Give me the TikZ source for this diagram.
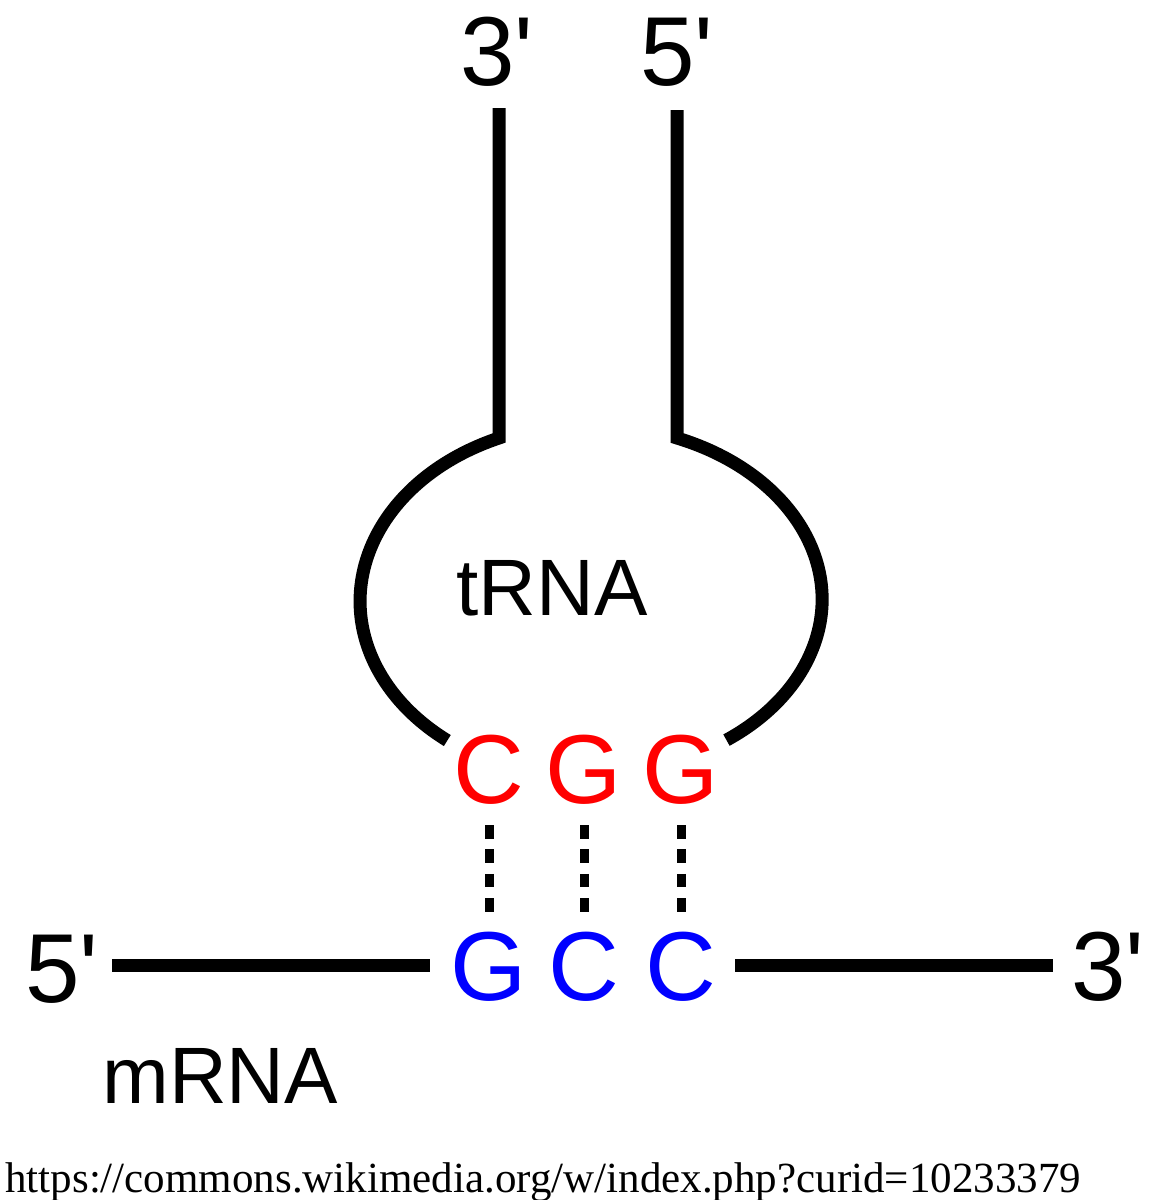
\documentclass[tikz,border=0pt]{standalone}
\usepackage{fontspec}
\setmainfont{Liberation Sans}
\newfontfamily\urlfont{Liberation Serif}
\usetikzlibrary{calc}
\definecolor{antired}{RGB}{255,0,0}
\definecolor{codonblue}{RGB}{0,0,255}
\begin{document}
\begin{tikzpicture}[x=0.5pt,y=-0.5pt,
  strand/.style={line width=6.5pt},
  hbond/.style={line width=4.5pt, dash pattern=on 6.8pt off 5.4pt},
  biglbl/.style={inner sep=0pt, anchor=base, font=\fontsize{49pt}{49pt}\selectfont},
  anti/.style={biglbl, text=antired},
  codon/.style={biglbl, text=codonblue},
  namelbl/.style={inner sep=0pt, anchor=base west, font=\fontsize{40pt}{40pt}\selectfont},
  srclbl/.style={inner sep=0pt, anchor=base west, font=\urlfont\fontsize{21.5pt}{21.5pt}\selectfont}]
\useasboundingbox (0,0) rectangle (1149,1200);

% end labels
\node[biglbl] (t3) at (497,85) {3\textquotesingle};
\node[biglbl] (t5) at (677,85) {5\textquotesingle};
\node[biglbl] (m5) at (62,1002) {5\textquotesingle};
\node[biglbl] (m3) at (1108,1000) {3\textquotesingle};

% anticodon and codon
\node[anti] (c1) at (489,803) {C};
\node[anti] (c2) at (584,803) {G};
\node[anti] (c3) at (681,803) {G};
\node[codon] (m1) at (489,1000) {G};
\node[codon] (m2) at (584,1000) {C};
\node[codon] (m3b) at (681,1000) {C};

% names
\node[namelbl] (trna) at (456,615) {tRNA};
\node[namelbl] (mrna) at (102,1103) {mRNA};
\node[srclbl] (src) at (5,1192) {https://commons.wikimedia.org/w/index.php?curid=10233379};

% tRNA strands
\coordinate (s3top) at (499,108);
\coordinate (s3bot) at (499,438);
\coordinate (s5top) at (677,110);
\coordinate (s5bot) at (677,438);
\draw[strand] (s3top) -- (s3bot) arc[start angle=246.5, end angle=128.5, x radius=231, y radius=178];
\draw[strand] (s5top) -- (s5bot) arc[start angle=-68, end angle=54, x radius=232, y radius=174];

% mRNA strand
\coordinate (ml1) at (112,965);
\coordinate (ml2) at (430,965);
\coordinate (mr1) at (735,965);
\coordinate (mr2) at (1053,965);
\draw[strand] (ml1) -- (ml2);
\draw[strand] (mr1) -- (mr2);

% base pairing
\draw[hbond] ($(c1.base)+(0,22)$) -- ($(m1.base)+(0,-88)$);
\draw[hbond] ($(c2.base)+(0,22)$) -- ($(m2.base)+(0,-88)$);
\draw[hbond] ($(c3.base)+(0,22)$) -- ($(m3b.base)+(0,-88)$);
\end{tikzpicture}
\end{document}
